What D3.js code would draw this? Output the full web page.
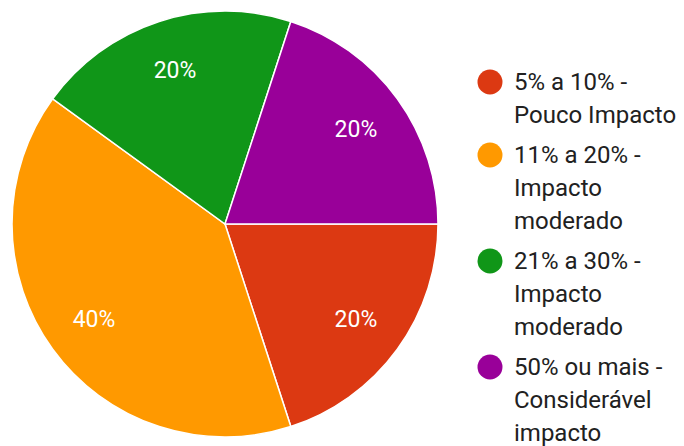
<!DOCTYPE html>
<html>
<head>
<meta charset="utf-8">
<script src="https://cdn.jsdelivr.net/npm/d3@7"></script>
<style>
  html, body { margin: 0; padding: 0; background: #fff; }
  svg { display: block; font-family: Roboto, "Noto Sans", sans-serif; }
</style>
</head>
<body>
<svg id="chart" width="684" height="446"></svg>
<script>
// data
const categories = [
  ["5% a 10% -", "Pouco Impacto"],
  ["11% a 20% -", "Impacto", "moderado"],
  ["21% a 30% -", "Impacto", "moderado"],
  ["50% ou mais -", "Considerável", "impacto"]
];
const values = [20, 40, 20, 20];
const colors = ["#dc3912", "#ff9900", "#109618", "#990099"];

const svg = d3.select("#chart");

// pie
const cx = 225, cy = 224, radius = 213;
const g = svg.append("g").attr("transform", `translate(${cx},${cy})`);

const total = d3.sum(values);
const pie = d3.pie()
  .sort(null)
  .startAngle(Math.PI / 2)
  .endAngle(Math.PI / 2 + 2 * Math.PI);

const arcs = pie(values);
const arc = d3.arc().innerRadius(0).outerRadius(radius);
const labelArc = d3.arc().innerRadius(radius * 0.76).outerRadius(radius * 0.76);

g.selectAll("path.slice")
  .data(arcs)
  .join("path")
  .attr("class", "slice")
  .attr("d", arc)
  .attr("fill", (d, i) => colors[i])
  .attr("stroke", "#fff")
  .attr("stroke-width", 1.5);

g.selectAll("text.pct")
  .data(arcs)
  .join("text")
  .attr("class", "pct")
  .attr("transform", d => `translate(${labelArc.centroid(d)})`)
  .attr("text-anchor", "middle")
  .attr("dy", "0.36em")
  .attr("fill", "#fff")
  .attr("font-size", 23)
  .text(d => Math.round(d.data / total * 100) + "%");

// legend
const lineH = 33, entryGap = 40;
const legend = svg.append("g").attr("transform", "translate(490,0)");
let baseline = 90;
categories.forEach((lines, i) => {
  const item = legend.append("g");
  item.append("circle")
    .attr("cx", 0)
    .attr("cy", baseline - 8)
    .attr("r", 12.5)
    .attr("fill", colors[i]);
  const t = item.append("text")
    .attr("fill", "#212121")
    .attr("font-size", 24);
  lines.forEach((line, j) => {
    t.append("tspan")
      .attr("x", 24)
      .attr("y", baseline + j * lineH)
      .text(line);
  });
  baseline += (lines.length - 1) * lineH + entryGap;
});
</script>
</body>
</html>
